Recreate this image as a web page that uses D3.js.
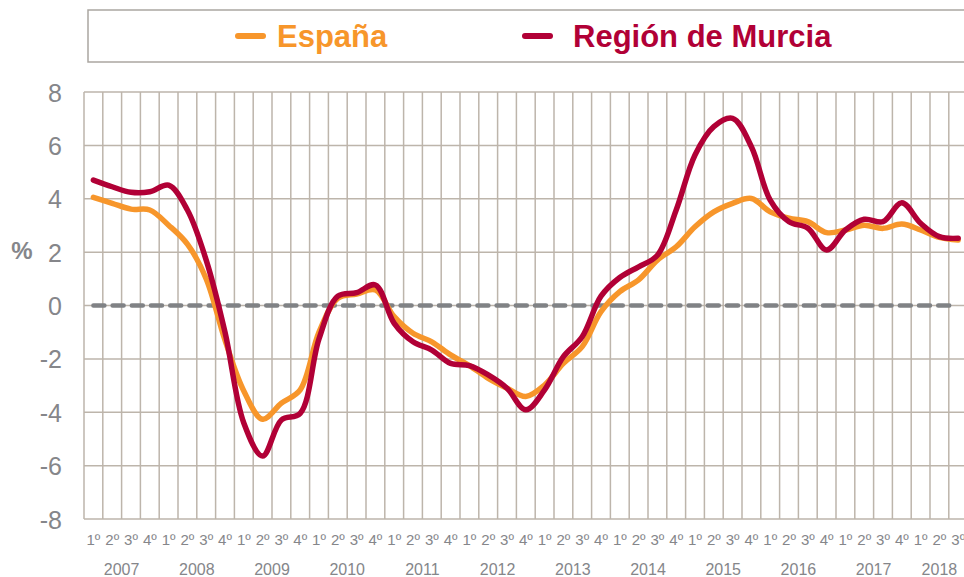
<!DOCTYPE html>
<html>
<head>
<meta charset="utf-8">
<script src="https://cdn.jsdelivr.net/npm/d3@7"></script>
<style>
	body { margin: 0; background: #fff; }
	svg { display: block; font-family: "Liberation Sans", Arial, sans-serif; }
</style>
</head>
<body>
<div id="chart"></div>
<script>
// Data, quarterly 2007 Q1 - 2018 Q3
var years    = ["2007","2008","2009","2010","2011","2012","2013","2014","2015","2016","2017","2018"];
var quarters = ["1º","2º","3º","4º"];
var espana = [4.05, 3.83, 3.61, 3.58, 3.01, 2.30, 1.00, -1.30, -3.20, -4.26, -3.66, -3.16,
	-1.00, 0.27, 0.43, 0.58, -0.42, -1.04, -1.36, -1.85, -2.25, -2.73, -3.10, -3.41,
	-2.98, -2.17, -1.54, -0.23, 0.52, 0.96, 1.70, 2.20, 2.95, 3.51, 3.83, 4.01,
	3.51, 3.27, 3.14, 2.73, 2.83, 3.01, 2.89, 3.05, 2.83, 2.55, 2.45];
var murcia = [4.70, 4.45, 4.24, 4.26, 4.51, 3.58, 1.70, -1.00, -4.40, -5.64, -4.29, -4.04,
	-1.25, 0.35, 0.48, 0.77, -0.67, -1.36, -1.67, -2.17, -2.25, -2.60, -3.10, -3.91,
	-3.16, -1.92, -1.17, 0.35, 1.05, 1.45, 1.88, 3.58, 5.64, 6.70, 7.01, 5.95,
	3.95, 3.14, 2.90, 2.08, 2.83, 3.23, 3.14, 3.85, 3.08, 2.58, 2.52];
var yTicks = [-8, -6, -4, -2, 0, 2, 4, 6, 8];

var series = [
	{ name: "España", values: espana, color: "#F7962B" },
	{ name: "Región de Murcia", values: murcia, color: "#B10036" }
];

// period ids, one per data point
var periods = [];
years.forEach(function (y) {
	quarters.forEach(function (q, qi) {
		if (periods.length < espana.length) periods.push({ id: y + "-" + (qi + 1), year: y, q: q });
	});
});

var W = 964, H = 577;
var plotLeft = 84, plotTop = 92, plotBottom = 519, step = 18.8;
var plotRight = plotLeft + step * periods.length;

var svg = d3.select("#chart").append("svg").attr("width", W).attr("height", H);

var x = d3.scaleBand().domain(periods.map(function (d) { return d.id; }))
	.range([plotLeft, plotRight]).padding(0);
var y = d3.scaleLinear().domain([-8, 8]).range([plotBottom, plotTop]);

var gridColor = "#BDB5AB";
var textColor = "#85868A";

// horizontal grid
svg.append("g").selectAll("line").data(yTicks).enter().append("line")
	.attr("x1", plotLeft).attr("x2", W + 10)
	.attr("y1", function (d) { return y(d); }).attr("y2", function (d) { return y(d); })
	.attr("stroke", gridColor).attr("stroke-width", 1.5);

// vertical grid (category boundaries)
var bounds = periods.map(function (d) { return x(d.id); }).concat([plotRight]);
svg.append("g").selectAll("line").data(bounds).enter().append("line")
	.attr("x1", function (d) { return d; }).attr("x2", function (d) { return d; })
	.attr("y1", plotTop).attr("y2", plotBottom)
	.attr("stroke", gridColor).attr("stroke-width", 1.5);

// y axis labels (plain hyphen for negatives, like the original)
var yAxis = svg.append("g").attr("transform", "translate(" + (plotLeft - 22) + ",0)")
	.call(d3.axisLeft(y).tickValues(yTicks).tickSize(0).tickPadding(0)
		.tickFormat(function (d) { return String(d); }));
yAxis.select(".domain").remove();
yAxis.selectAll("text").attr("fill", textColor).style("font-size", "25px")
	.attr("font-family", "Liberation Sans, Arial, sans-serif").attr("dy", "0.36em");

svg.append("text").attr("x", 22).attr("y", 259).attr("text-anchor", "middle")
	.attr("fill", textColor).style("font-size", "24px").style("font-weight", "bold").text("%");

// quarter labels
var xAxis = svg.append("g").attr("transform", "translate(0," + 545 + ")")
	.call(d3.axisBottom(x).tickSize(0).tickPadding(0)
		.tickFormat(function (d, i) { return periods[i].q; }));
xAxis.select(".domain").remove();
xAxis.selectAll("text").attr("fill", textColor).style("font-size", "15px")
	.attr("font-family", "Liberation Sans, Arial, sans-serif").attr("dy", "0");

// year labels
svg.append("g").selectAll("text").data(years).enter().append("text")
	.attr("x", function (yr) {
		var ps = periods.filter(function (p) { return p.year === yr; });
		return (x(ps[0].id) + x(ps[ps.length - 1].id) + step) / 2;
	})
	.attr("y", 575).attr("text-anchor", "middle")
	.attr("fill", textColor).style("font-size", "16px").text(function (d) { return d; });

// zero reference line
var cx = function (i) { return x(periods[i].id) + x.bandwidth() / 2; };
svg.append("line")
	.attr("x1", cx(0)).attr("x2", cx(periods.length - 1) - 6)
	.attr("y1", y(0)).attr("y2", y(0))
	.attr("stroke", "#808285").attr("stroke-width", 4.5)
	.attr("stroke-dasharray", "11,8.2").attr("stroke-linecap", "round");

// series lines
var line = d3.line()
	.x(function (d, i) { return cx(i); })
	.y(function (d) { return y(d); })
	.curve(d3.curveCatmullRom.alpha(0.5));

svg.append("g").selectAll("path").data(series).enter().append("path")
	.attr("d", function (s) { return line(s.values); })
	.attr("fill", "none").attr("stroke", function (s) { return s.color; })
	.attr("stroke-width", 5.5).attr("stroke-linejoin", "round").attr("stroke-linecap", "round");

// legend
svg.append("rect").attr("x", 88).attr("y", 10).attr("width", 900).attr("height", 52)
	.attr("fill", "#fff").attr("stroke", "#ABA6A1").attr("stroke-width", 1.5);

var legendPos = [{ lx: 238, tx: 277 }, { lx: 525, tx: 573 }];
var lg = svg.append("g").selectAll("g").data(series).enter().append("g");
lg.append("line")
	.attr("x1", function (d, i) { return legendPos[i].lx; })
	.attr("x2", function (d, i) { return legendPos[i].lx + 25; })
	.attr("y1", 36).attr("y2", 36)
	.attr("stroke", function (d) { return d.color; }).attr("stroke-width", 6).attr("stroke-linecap", "round");
lg.append("text")
	.attr("x", function (d, i) { return legendPos[i].tx; })
	.attr("y", 47)
	.attr("fill", function (d) { return d.color; })
	.style("font-size", "31px").style("font-weight", "bold")
	.text(function (d) { return d.name; });
</script>
</body>
</html>
